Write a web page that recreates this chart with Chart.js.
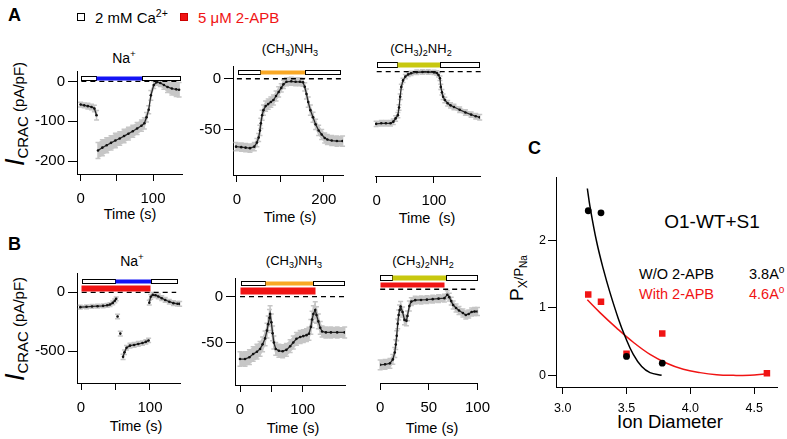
<!DOCTYPE html>
<html>
<head>
<meta charset="utf-8">
<script src="https://cdn.jsdelivr.net/npm/chart.js@4.4.0/dist/chart.umd.min.js"></script>
<style>
  body { margin: 0; background: #fff; }
  #fig { position: relative; width: 787px; height: 439px; overflow: hidden;
         font-family: "Liberation Sans", Arial, sans-serif; color: #000; }
  #fig canvas { position: absolute; }
  .t { position: absolute; white-space: nowrap; line-height: 1; transform: translate(-50%, -50%); }
  .rot { transform: translate(-50%, -50%) rotate(-90deg); }
  .l { position: absolute; white-space: nowrap; line-height: 1; transform: translateY(-50%); }
  .r { position: absolute; white-space: nowrap; line-height: 1; transform: translate(-100%, -50%); }
  sub, sup { line-height: 0; font-size: 70%; }
  .panel { font-weight: bold; font-size: 18px; position: absolute; line-height: 1; }
  .sq { position: absolute; width: 6px; height: 6px; border: 1px solid #000; }
</style>
</head>
<body>
<div id="fig">
  <div class="panel" style="left:8px;top:6px">A</div>
  <div class="panel" style="left:8px;top:235px">B</div>
  <div class="panel" style="left:528px;top:139px">C</div>

  <div class="sq" style="left:77px;top:13px;background:#fff"></div>
  <div class="l" style="left:95px;top:17px;font-size:15px">2 mM Ca<sup>2+</sup></div>
  <div class="sq" style="left:180px;top:13px;background:#f01414;border-color:#c00"></div>
  <div class="l" style="left:198px;top:17px;font-size:15px;color:#f01414">5 μM 2-APB</div>

  <div class="t rot" style="left:15px;top:114px;font-size:15px"><i style="font-size:27px">I</i><sub style="font-size:15px">CRAC</sub> (pA/pF)</div>
  <div class="t rot" style="left:15px;top:329px;font-size:15px"><i style="font-size:27px">I</i><sub style="font-size:15px">CRAC</sub> (pA/pF)</div>

  <div class="t" style="left:124px;top:58px;font-size:14px">Na<sup>+</sup></div>
  <div class="t" style="left:290px;top:48px;font-size:13px">(CH<sub>3</sub>)NH<sub>3</sub></div>
  <div class="t" style="left:421px;top:48px;font-size:13px">(CH<sub>3</sub>)<sub>2</sub>NH<sub>2</sub></div>
  <div class="t" style="left:132px;top:261px;font-size:14px">Na<sup>+</sup></div>
  <div class="t" style="left:294px;top:260px;font-size:13px">(CH<sub>3</sub>)NH<sub>3</sub></div>
  <div class="t" style="left:423px;top:260px;font-size:13px">(CH<sub>3</sub>)<sub>2</sub>NH<sub>2</sub></div>

  <div class="t" style="left:130px;top:214px;font-size:14.5px">Time (s)</div>
  <div class="t" style="left:290px;top:217px;font-size:14.5px">Time (s)</div>
  <div class="t" style="left:427px;top:218px;font-size:14.5px">Time&nbsp;&nbsp;(s)</div>
  <div class="t" style="left:136px;top:426px;font-size:14.5px">Time (s)</div>
  <div class="t" style="left:293px;top:428px;font-size:14.5px">Time (s)</div>
  <div class="t" style="left:432px;top:428px;font-size:14.5px">Time (s)</div>

  <div class="t" style="left:670px;top:422px;font-size:18.5px">Ion Diameter</div>
  <div class="t rot" style="left:516px;top:278px"><span style="font-size:19px">P</span><sub style="font-size:12px">X</sub><span style="font-size:13px">/P</span><sub style="font-size:10px">Na</sub></div>
  <div class="t" style="left:712px;top:221px;font-size:19px">O1-WT+S1</div>
  <div class="r" style="left:714px;top:274px;font-size:14.5px">W/O 2-APB</div>
  <div class="l" style="left:749px;top:274px;font-size:14.5px">3.8A<sup>o</sup></div>
  <div class="r" style="left:714px;top:294px;font-size:14.5px;color:#f01414">With 2-APB</div>
  <div class="l" style="left:749px;top:294px;font-size:14.5px;color:#f01414">4.6A<sup>o</sup></div>

  <canvas id="a1"></canvas><canvas id="a2"></canvas><canvas id="a3"></canvas>
  <canvas id="b1"></canvas><canvas id="b2"></canvas><canvas id="b3"></canvas>
  <canvas id="c"></canvas>
</div>
<script>
// traces: [time (s), I_CRAC (pA/pF), sem]; a null current breaks the trace
const a1Trace = [
  [0,-58,6],[5,-60,6],[10,-62,7],[15,-64,7],[19,-68,8],[22,-85,12],[23,null,0],
  [24,-173,20],[30,-166,20],[36,-160,19],[42,-154,18],[48,-148,18],[54,-143,17],[60,-137,17],
  [66,-131,16],[72,-125,15],[78,-118,15],[84,-111,14],[88,-105,14],[91,-90,12],[94,-71,10],
  [97,-35,12],[101,-9,9],[105,-2,8],[110,-4,9],[115,-9,11],[120,-14,14],[126,-18,16],
  [132,-20,18],[136,-21,18]
];
const a2Trace = [
  [-2,-67,4],[10,-67.5,4],[20,-68,4],[30,-68.5,4],[40,-67,4],[46,-63,4],[50,-58,4],[53,-51,5],
  [55,-44,5],[58,-36,5],[61,-31,5],[66,-27,5],[72,-25,5],[78,-23,5],[84,-21,5],[90,-17,5],
  [96,-13,5],[102,-9,4],[107,-5.5,4],[114,-3,4],[125,-2.5,4],[135,-3,4],[145,-3,4],[152,-3.5,4],
  [156,-8,4],[160,-15,5],[164,-23,5],[169,-31,5],[175,-38,5],[181,-45,5],[188,-51,5],
  [195,-55,5],[202,-58.5,5],[208,-60,5],[218,-61,5],[230,-61.5,5],[243,-61.5,5]
];
const a3Trace = [
  [-1,-48,2.5],[8,-47.5,2.5],[16,-47.5,2.5],[24,-47.5,2.5],[29,-46,2.5],[33,-43,2.5],[37,-40,2.5],
  [39,-33,2.5],[41,-23,2.5],[43,-14,2.5],[46,-8,2],[50,-4.5,2],[55,-2.5,2],[60,-1.5,2],[70,-0.5,2],
  [80,-0.3,2],[90,-0.3,2],[100,-0.6,2],[105,-1.2,2],[108,-3,2],[110.5,-6,2],[112,-14,2.5],
  [114,-19,2.5],[116,-23,2.5],[119,-26,2.5],[124,-29,2.5],[129,-31,2.5],[135,-32.5,2.5],
  [145,-35,2.5],[155,-37.5,2.5],[165,-39.5,2.5],[173,-41,2.5],[180,-42,2.5]
];
const b1Trace = [
  [-1,-126,16],[8,-123,16],[16,-120,16],[24,-118,16],[32,-115,16],[38,-110,16],[42,-104,16],
  [46,-90,16],[49,-72,16],[51,-55,16],[52,null,0],[53,-205,20],[54,null,0],[57,-350,20],[58,null,0],
  [61,-547,22],[63,-508,20],[66,-470,20],[71,-452,20],[77,-446,20],[83,-438,20],[89,-430,18],
  [94,-420,18],[98,-408,18],[98.5,null,0],[99,-88,20],[101,-38,20],[104,-22,20],[108,-25,20],
  [112,-35,20],[117,-50,20],[122,-65,20],[128,-80,20],[134,-92,20],[140,-97,20],[143,-98,20]
];
const b2Trace = [
  [0,-68,8],[8,-68,8],[15,-66,8],[21,-62.5,8],[27,-60,8],[32,-57,8],[36,-52,8],[40,-45.5,8],
  [43,-37,8],[45,-30,9],[47,-23,9],[48,-19,9],[50,-28,9],[52,-40,8],[54,-50,7],[57,-57,7],
  [62,-59,7],[68,-59.5,7],[74,-58,7],[80,-54,7],[85,-50,7],[90,-46,7],[96,-44,7],[101,-43,7],
  [106,-42,7],[110,-40.5,7],[113,-33,8],[115,-25,9],[117,-19,9],[120,-14.5,9],[122,-20,9],
  [125,-27,8],[128,-34,7],[131,-38,6],[137,-39,6],[145,-39,6],[155,-39,6],[167,-39,6]
];
const b3Trace = [
  [0,-76.5,5],[5,-76,5],[10,-75,5],[13,-71,5],[15,-64,5],[16,-56,5],[17,-47,5],[18,-35,5],
  [19,-26,5],[20,-21,5],[21,-17.5,5],[23,-23,5],[25,-31,5],[27,-32,5],[28,-27,5],[30,-17,5],
  [32,-12.5,4],[36,-11,4],[42,-10.8,4],[48,-10.5,4],[54,-10,4],[60,-9.5,4],[66,-9,4],
  [69,-5.5,4],[71,-8,4],[73,-12,4],[75,-16,4],[78,-19,4],[81,-21.5,4],[85,-24,4],[88,-26,4],
  [91,-25,4],[94,-23,4],[97,-22.5,4],[100,-22.5,4]
];

// solution exchange times (s): Ca / test ion / Ca
const a1Sol = [1, 21, 85, 137];
const a2Sol = [3, 54, 156, 237];
const a3Sol = [1, 35, 110, 179];
const b1Sol = [1, 49, 101, 139];
const b2Sol = [1, 40, 116, 166];
const b3Sol = [0, 12, 68, 100];
// 2-APB application (s)
const b1Apb = [0, 100];
const b2Apb = [0, 120];
const b3Apb = [0, 66];

// dashed zero-current reference
const a1Zero = [1, 137];
const a2Zero = [0, 241];
const a3Zero = [0, 185];
const b1Zero = [1, 138];
const b2Zero = [0, 167];
const b3Zero = [0, 101.5];

// ticks
const a1XTicks = [0, 50, 100], a1XLabels = [0, 100], a1YTicks = [0, -100, -200];
const a2XTicks = [0, 100, 200], a2XLabels = [0, 200], a2YTicks = [0, -50];
const a3XTicks = [0, 100], a3XLabels = [0, 100];
const b1XTicks = [0, 50, 100], b1XLabels = [0, 100], b1YTicks = [0, -500];
const b2XTicks = [0, 50, 100], b2XLabels = [0, 100], b2YTicks = [0, -50];
const b3XTicks = [0, 50, 100], b3XLabels = [0, 50, 100];

// C: permeability ratio vs ion diameter
const ionDiameter = [3.2, 3.3, 3.5, 3.78];
const pRatioNo2apb = [2.44, 2.41, 0.28, 0.18];
const ionDiameter2apb = [3.2, 3.3, 3.5, 3.78, 4.6];
const pRatio2apb = [1.2, 1.09, 0.32, 0.62, 0.03];
const fitNo2apb = [
  [3.193,2.77],[3.214,2.5],[3.266,1.98],[3.319,1.57],[3.37,1.23],[3.436,0.84],
  [3.488,0.58],[3.553,0.31],[3.619,0.13],[3.684,0.04],[3.775,0]
];
const fit2apb = [
  [3.193,1.12],[3.292,0.93],[3.423,0.7],[3.553,0.49],[3.684,0.31],[3.815,0.18],
  [3.945,0.09],[4.076,0.04],[4.206,0.01],[4.337,0],[4.467,0],[4.585,0.02]
];
const cXTicks = [3.0, 3.5, 4.0, 4.5];
const cYTicks = [0, 1, 2];

const BLUE = "#1414f5", ORANGE = "#f9a825", OLIVE = "#c8c80f", RED = "#f01414";
const GREY = "#c6c6c6";
const FONT = "Liberation Sans";

const solBars = {
  id: "solBars",
  beforeDatasetsDraw(chart, args, opts) {
    // sem error bars, so isolated points keep theirs too
    const { ctx, scales: { x, y } } = chart;
    ctx.save();
    ctx.strokeStyle = GREY;
    ctx.lineWidth = 1.5;
    (opts.trace || []).forEach(p => {
      if (p[1] === null) return;
      const px = x.getPixelForValue(p[0]);
      const y0 = y.getPixelForValue(p[1] + p[2]);
      const y1 = y.getPixelForValue(p[1] - p[2]);
      ctx.beginPath();
      ctx.moveTo(px, y0); ctx.lineTo(px, y1);
      ctx.moveTo(px - 2.5, y0); ctx.lineTo(px + 2.5, y0);
      ctx.moveTo(px - 2.5, y1); ctx.lineTo(px + 2.5, y1);
      ctx.stroke();
    });
    ctx.restore();
  },
  afterDatasetsDraw(chart, args, opts) {
    const { ctx, scales: { x, y } } = chart;
    (opts.rows || []).forEach(row => {
      const y0 = Math.round(y.getPixelForValue(row.hi)) + 0.5;
      const y1 = Math.round(y.getPixelForValue(row.lo)) + 0.5;
      for (let i = 0; i < row.edges.length - 1; i++) {
        const x0 = Math.round(x.getPixelForValue(row.edges[i])) + 0.5;
        const x1 = Math.round(x.getPixelForValue(row.edges[i + 1])) + 0.5;
        ctx.fillStyle = row.colors[i];
        ctx.fillRect(x0, y0, x1 - x0, y1 - y0);
        if (row.colors[i] === "#ffffff") {
          ctx.strokeStyle = "#000";
          ctx.lineWidth = 1;
          ctx.strokeRect(x0, y0, x1 - x0, y1 - y0);
        }
      }
    });
  }
};

function axisX(o, min, max, labelFn) {
  return {
    type: "linear", min: min, max: max,
    afterFit: s => { s.height = o.xH; },
    afterBuildTicks: s => { s.ticks = o.xTicks.map(v => ({ value: v })); },
    ticks: { callback: labelFn, autoSkip: false, maxRotation: 0, padding: o.xPad,
             color: "#000", font: { family: FONT, size: o.fontSize } },
    grid: { drawOnChartArea: false, tickLength: 7, color: "#000" },
    border: { color: "#000", width: 1 }
  };
}

function axisY(o, min, max, labelFn) {
  if (!o.yTicks) return { display: false, min: min, max: max };
  return {
    type: "linear", min: min, max: max,
    afterFit: s => { s.width = o.yW; },
    afterBuildTicks: s => { s.ticks = o.yTicks.map(v => ({ value: v })); },
    ticks: { callback: labelFn, autoSkip: false, padding: o.yPad,
             color: "#000", font: { family: FONT, size: o.fontSize } },
    grid: { drawOnChartArea: false, tickLength: o.yTick, color: "#000" },
    border: { color: "#000", width: 1 }
  };
}

function placeCanvas(id, box, o) {
  const canvas = document.getElementById(id);
  const yW = o.yTicks ? o.yW : 0;
  const padL = o.yTicks ? 0 : 12;
  canvas.width = box.r - box.l + yW + padL + o.padR;
  canvas.height = box.b - box.t + o.padT + o.xH;
  canvas.style.left = (box.l - yW - padL) + "px";
  canvas.style.top = (box.t - o.padT) + "px";
  return { canvas, padL };
}

function tracePanel(id, box, o) {
  o = Object.assign({ yW: 48, yTick: 9, yPad: 3, xH: 34, xPad: 9, padT: 4, padR: 14, fontSize: 15 }, o);
  const { canvas, padL } = placeCanvas(id, box, o);
  const mean = o.trace.map(p => ({ x: p[0], y: p[1] }));
  const upper = o.trace.map(p => ({ x: p[0], y: p[1] === null ? null : p[1] + p[2] }));
  const lower = o.trace.map(p => ({ x: p[0], y: p[1] === null ? null : p[1] - p[2] }));
  const rows = [{ edges: o.sol, colors: ["#ffffff", o.ion, "#ffffff"], hi: o.solHi, lo: o.solLo }];
  if (o.apb) rows.push({ edges: o.apb, colors: [RED], hi: o.apbHi, lo: o.apbLo });

  new Chart(canvas, {
    type: "line",
    data: {
      datasets: [
        { data: mean, borderColor: "#2b2b2b", borderWidth: 1.3, pointRadius: 1.3,
          pointBackgroundColor: "#111", pointBorderWidth: 0, fill: false },
        { data: o.zero.map(t => ({ x: t, y: 0 })), borderColor: "#000", borderWidth: 1.3,
          borderDash: [5, 4], pointRadius: 0, fill: false, clip: false },
        { data: upper, borderWidth: 0, borderColor: "rgba(0,0,0,0)", pointRadius: 0, fill: false },
        { data: lower, borderWidth: 0, borderColor: "rgba(0,0,0,0)", pointRadius: 0,
          fill: "-1", backgroundColor: GREY }
      ]
    },
    options: {
      responsive: false,
      devicePixelRatio: 1,
      animation: false,
      layout: { padding: { top: o.padT, right: o.padR, left: padL, bottom: 0 } },
      plugins: { legend: { display: false }, tooltip: { enabled: false },
                 solBars: { rows: rows, trace: o.trace } },
      scales: {
        x: axisX(o, o.xMin, o.xMax, v => o.xLabels.includes(v) ? String(v) : ""),
        y: axisY(o, o.yMin, o.yMax, v => String(v))
      }
    },
    plugins: [solBars]
  });
}

tracePanel("a1", { l: 77, t: 63, r: 182, b: 174 }, {
  trace: a1Trace, sol: a1Sol, ion: BLUE, solHi: 12.4, solLo: 3, zero: a1Zero,
  xMin: -5, xMax: 140, yMin: -232, yMax: 26,
  xTicks: a1XTicks, xLabels: a1XLabels, yTicks: a1YTicks
});
tracePanel("a2", { l: 233, t: 58, r: 343, b: 175 }, {
  trace: a2Trace, sol: a2Sol, ion: ORANGE, solHi: 8.3, solLo: 4.6, zero: a2Zero,
  xMin: -9, xMax: 244, yMin: -95, yMax: 12.6,
  xTicks: a2XTicks, xLabels: a2XLabels, yTicks: a2YTicks
});
tracePanel("a3", { l: 375, t: 58, r: 480, b: 176 }, {
  trace: a3Trace, sol: a3Sol, ion: OLIVE, solHi: 8.9, solLo: 4.6, zero: a3Zero,
  xMin: -3, xMax: 180.5, yMin: -96, yMax: 12.6,
  xTicks: a3XTicks, xLabels: a3XLabels
});
tracePanel("b1", { l: 77, t: 265, r: 180, b: 383 }, {
  trace: b1Trace, sol: b1Sol, ion: BLUE, solHi: 116, solLo: 77, zero: b1Zero,
  apb: b1Apb, apbHi: 66, apbLo: 13,
  xMin: -5.8, xMax: 143.5, yMin: -768.6, yMax: 163.5,
  xTicks: b1XTicks, xLabels: b1XLabels, yTicks: b1YTicks
});
tracePanel("b2", { l: 235, t: 270, r: 345, b: 385 }, {
  trace: b2Trace, sol: b2Sol, ion: ORANGE, solHi: 17.5, solLo: 12.2, zero: b2Zero,
  apb: b2Apb, apbHi: 10.1, apbLo: 3.3,
  xMin: -8, xMax: 167.5, yMin: -96.3, yMax: 20.3,
  xTicks: b2XTicks, xLabels: b2XLabels, yTicks: b2YTicks
});
tracePanel("b3", { l: 379, t: 270, r: 485, b: 383 }, {
  trace: b3Trace, sol: b3Sol, ion: OLIVE, solHi: 14.5, solLo: 9.4, zero: b3Zero,
  apb: b3Apb, apbHi: 7.7, apbLo: 2,
  xMin: 0, xMax: 100, yMin: -94.9, yMax: 19.5,
  xTicks: b3XTicks, xLabels: b3XLabels
});

// panel C
(function () {
  const o = { yW: 30, yTick: 8, yPad: 2, xH: 30, xPad: 7, padT: 4, padR: 8, fontSize: 12.5,
              xTicks: cXTicks, yTicks: cYTicks };
  const box = { l: 556, t: 172, r: 777, b: 387 };
  const { canvas } = placeCanvas("c", box, o);
  new Chart(canvas, {
    type: "scatter",
    data: {
      datasets: [
        { data: ionDiameter.map((d, i) => ({ x: d, y: pRatioNo2apb[i] })),
          pointStyle: "circle", pointRadius: 3.4, pointBackgroundColor: "#000", pointBorderWidth: 0 },
        { data: ionDiameter2apb.map((d, i) => ({ x: d, y: pRatio2apb[i] })),
          pointStyle: "rect", pointRadius: 4.6, pointBackgroundColor: RED, pointBorderWidth: 0 },
        { data: fitNo2apb.map(p => ({ x: p[0], y: p[1] })), showLine: true, tension: 0.4,
          borderColor: "#000", borderWidth: 1.5, pointRadius: 0 },
        { data: fit2apb.map(p => ({ x: p[0], y: p[1] })), showLine: true, tension: 0.4,
          borderColor: RED, borderWidth: 1.5, pointRadius: 0 }
      ]
    },
    options: {
      responsive: false,
      devicePixelRatio: 1,
      animation: false,
      layout: { padding: { top: o.padT, right: o.padR, left: 0, bottom: 0 } },
      plugins: { legend: { display: false }, tooltip: { enabled: false } },
      scales: {
        x: axisX(o, 2.9475, 4.679, v => v.toFixed(1)),
        y: axisY(o, -0.173, 2.933, v => String(v))
      }
    }
  });
})();
</script>
</body>
</html>
